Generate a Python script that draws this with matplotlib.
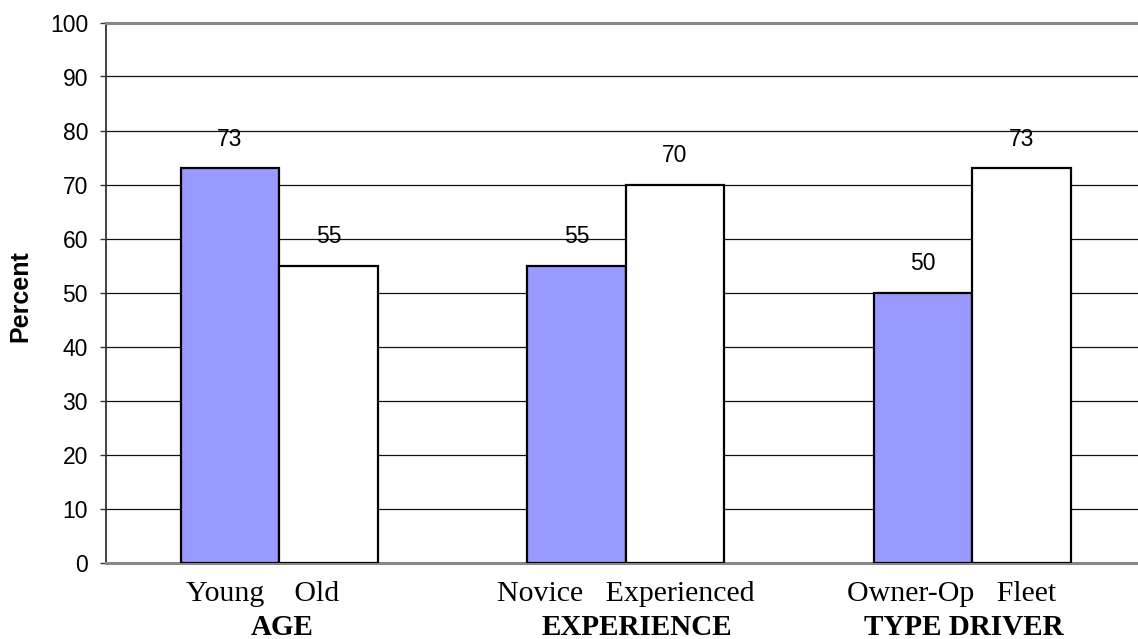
import matplotlib
matplotlib.use('Agg')
import matplotlib.pyplot as plt
import numpy as np

groups = ['AGE', 'EXPERIENCE', 'TYPE DRIVER']
left_labels = ['Young', 'Novice', 'Owner-Op']
right_labels = ['Old', 'Experienced', 'Fleet']
left_vals = [73, 55, 50]
right_vals = [55, 70, 73]
yticks = list(range(0, 101, 10))

W, H = 1138, 639
fig = plt.figure(figsize=(W/100, H/100), dpi=100)
ax = fig.add_axes([106/W, 76.5/H, 1039.5/W, 540/H])

x = np.arange(len(groups))
w = 0.284

ax.bar(x - w/2, left_vals, w, color='#9999ff', edgecolor='black', linewidth=1.6, zorder=3)
ax.bar(x + w/2, right_vals, w, color='white', edgecolor='black', linewidth=1.6, zorder=3)

# value labels above bars
for xs, vals in [(x - w/2, left_vals), (x + w/2, right_vals)]:
    for xi, v in zip(xs, vals):
        ax.annotate(str(v), (xi, v), xytext=(0, 16.2), textcoords='offset points',
                    ha='center', va='baseline', fontsize=16.5, family='Liberation Sans')

ax.set_xlim(-0.5, 2.5)
ax.set_ylim(0, 100)
ax.set_yticks(yticks)
ax.set_yticklabels([str(t) for t in yticks], fontsize=16.5, family='Liberation Sans')
ax.yaxis.grid(True, color='#111111', linewidth=0.9, zorder=0)
ax.set_axisbelow(True)
ax.tick_params(axis='y', direction='out', length=4.3, width=1, color='#333333', pad=8.6)
ax.set_xticks([])

ax.spines['right'].set_visible(False)
ax.spines['top'].set_color('#888888')
ax.spines['top'].set_linewidth(2.2)
ax.spines['bottom'].set_color('#888888')
ax.spines['bottom'].set_linewidth(2.2)
ax.spines['left'].set_color('#333333')
ax.spines['left'].set_linewidth(1.3)

# category labels under each pair (pixel nudges to match the original)
sub_shift = [-17, 0, -21]
grp_shift = [3, 11, -8]
for xi, ll, rl, g, ds, dg in zip(x, left_labels, right_labels, groups, sub_shift, grp_shift):
    ax.annotate(ll + '    ' + rl if ll == 'Young' else ll + '   ' + rl, (xi, 0),
                xytext=(ds * 0.72, -27.7), textcoords='offset points',
                ha='center', va='baseline', fontsize=21.5, family='Liberation Serif',
                annotation_clip=False)
    ax.annotate(g, (xi, 0), xytext=(dg * 0.72, -52.2), textcoords='offset points',
                ha='center', va='baseline', fontsize=21, fontweight='bold',
                family='Liberation Serif', annotation_clip=False)

fig.text(20/W, 1 - 296/H, 'Percent', rotation=90, ha='center', va='center',
         fontsize=18, fontweight='bold', family='Liberation Sans')

fig.savefig('out.png', dpi=100)
